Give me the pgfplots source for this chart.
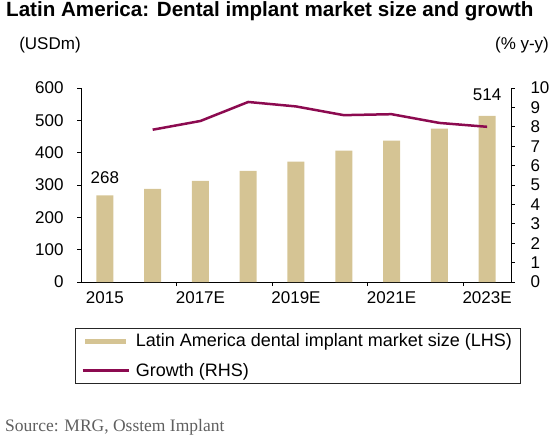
\documentclass[border=0pt]{standalone}
\usepackage{pgfplots}
\pgfplotsset{compat=1.18}
\usepackage{fontspec}
\setmainfont{Liberation Sans}
\newfontfamily\srcfont{Liberation Serif}
\definecolor{barcol}{RGB}{213,196,148}
\definecolor{linecol}{RGB}{140,10,80}
\definecolor{srcgray}{RGB}{95,95,95}
\newcommand{\tickfont}{\fontsize{17}{17}\selectfont}
\begin{document}
\begin{tikzpicture}[x=1pt,y=1pt]
\useasboundingbox (0,0) rectangle (560,440);
% title and unit labels
\node[anchor=base west, inner sep=0pt, font=\fontsize{20.6}{20.6}\selectfont\bfseries] at (6,423) {Latin America: Dental implant market size and growth};
\node[inner sep=0pt, font=\fontsize{17}{17}\selectfont] at (50,395) {(USDm)};
\node[inner sep=0pt, font=\fontsize{17}{17}\selectfont] at (522,395) {(\% y-y)};
% left axis: bars
\begin{axis}[
  at={(81pt,158pt)}, anchor=south west,
  width=430pt, height=194pt, scale only axis,
  xmin=-0.5, xmax=8.5, ymin=0, ymax=600,
  axis x line*=bottom, axis y line*=left,
  axis line style={line width=0.8pt, -},
  xtick={1.5,3.5,5.5,7.5}, xticklabels={},
  extra x ticks={0,2,4,6,8},
  extra x tick labels={2015,2017E,2019E,2021E,2023E},
  extra x tick style={major tick length=0pt},
  ytick={0,100,...,600},
  tick align=outside, major tick length=4pt,
  tick style={line width=0.8pt, black},
  ticklabel style={font=\tickfont},
  xticklabel style={yshift=-6pt},
  yticklabel style={xshift=-10pt},
  /pgf/number format/assume math mode=true,
  ybar, bar width=17pt,
]
\addplot[fill=barcol, draw=none] coordinates {
  (0,268) (1,288) (2,313) (3,344) (4,372) (5,406) (6,437) (7,474) (8,514)};
\node[font=\tickfont, anchor=south] at (axis cs:0,268) [yshift=8pt] {268};
\node[font=\tickfont, anchor=south] at (axis cs:8,514) [yshift=12pt] {514};
\end{axis}
% right axis: growth line
\begin{axis}[
  at={(81pt,158pt)}, anchor=south west,
  width=430pt, height=194pt, scale only axis,
  xmin=-0.5, xmax=8.5, ymin=0, ymax=10,
  axis x line=none, axis y line*=right,
  axis line style={line width=0.8pt, -},
  ytick={0,1,...,10},
  tick align=outside, major tick length=4pt,
  tick style={line width=0.8pt, black},
  ticklabel style={font=\tickfont},
  yticklabel style={anchor=west, xshift=12pt},
  /pgf/number format/assume math mode=true,
  legend style={at={(-0.014,-0.237)}, anchor=north west,
    draw=black!85, line width=0.8pt,
    font=\fontsize{18}{18}\selectfont,
    inner xsep=6pt, inner ysep=3.5pt,
    row sep=11pt, column sep=4pt,
    cells={anchor=west}},
]
\addlegendimage{legend image code/.code={\fill[barcol] (0pt,-2pt) rectangle (40pt,2pt);}}
\addlegendentry{Latin America dental implant market size (LHS)}
\addplot[color=linecol, line width=2.5pt, mark=none,
  legend image code/.code={\draw[linecol, line width=2.5pt] (-3pt,0pt) -- (43pt,0pt);}]
  coordinates {(1,7.85) (2,8.3) (3,9.28) (4,9.05) (5,8.6) (6,8.65) (7,8.2) (8,8.0)};
\addlegendentry{Growth (RHS)}
\end{axis}
\node[anchor=base west, inner sep=0pt, font=\srcfont\fontsize{17.5}{17.5}\selectfont, text=srcgray] at (5,9) {Source: MRG, Osstem Implant};
\end{tikzpicture}
\end{document}
